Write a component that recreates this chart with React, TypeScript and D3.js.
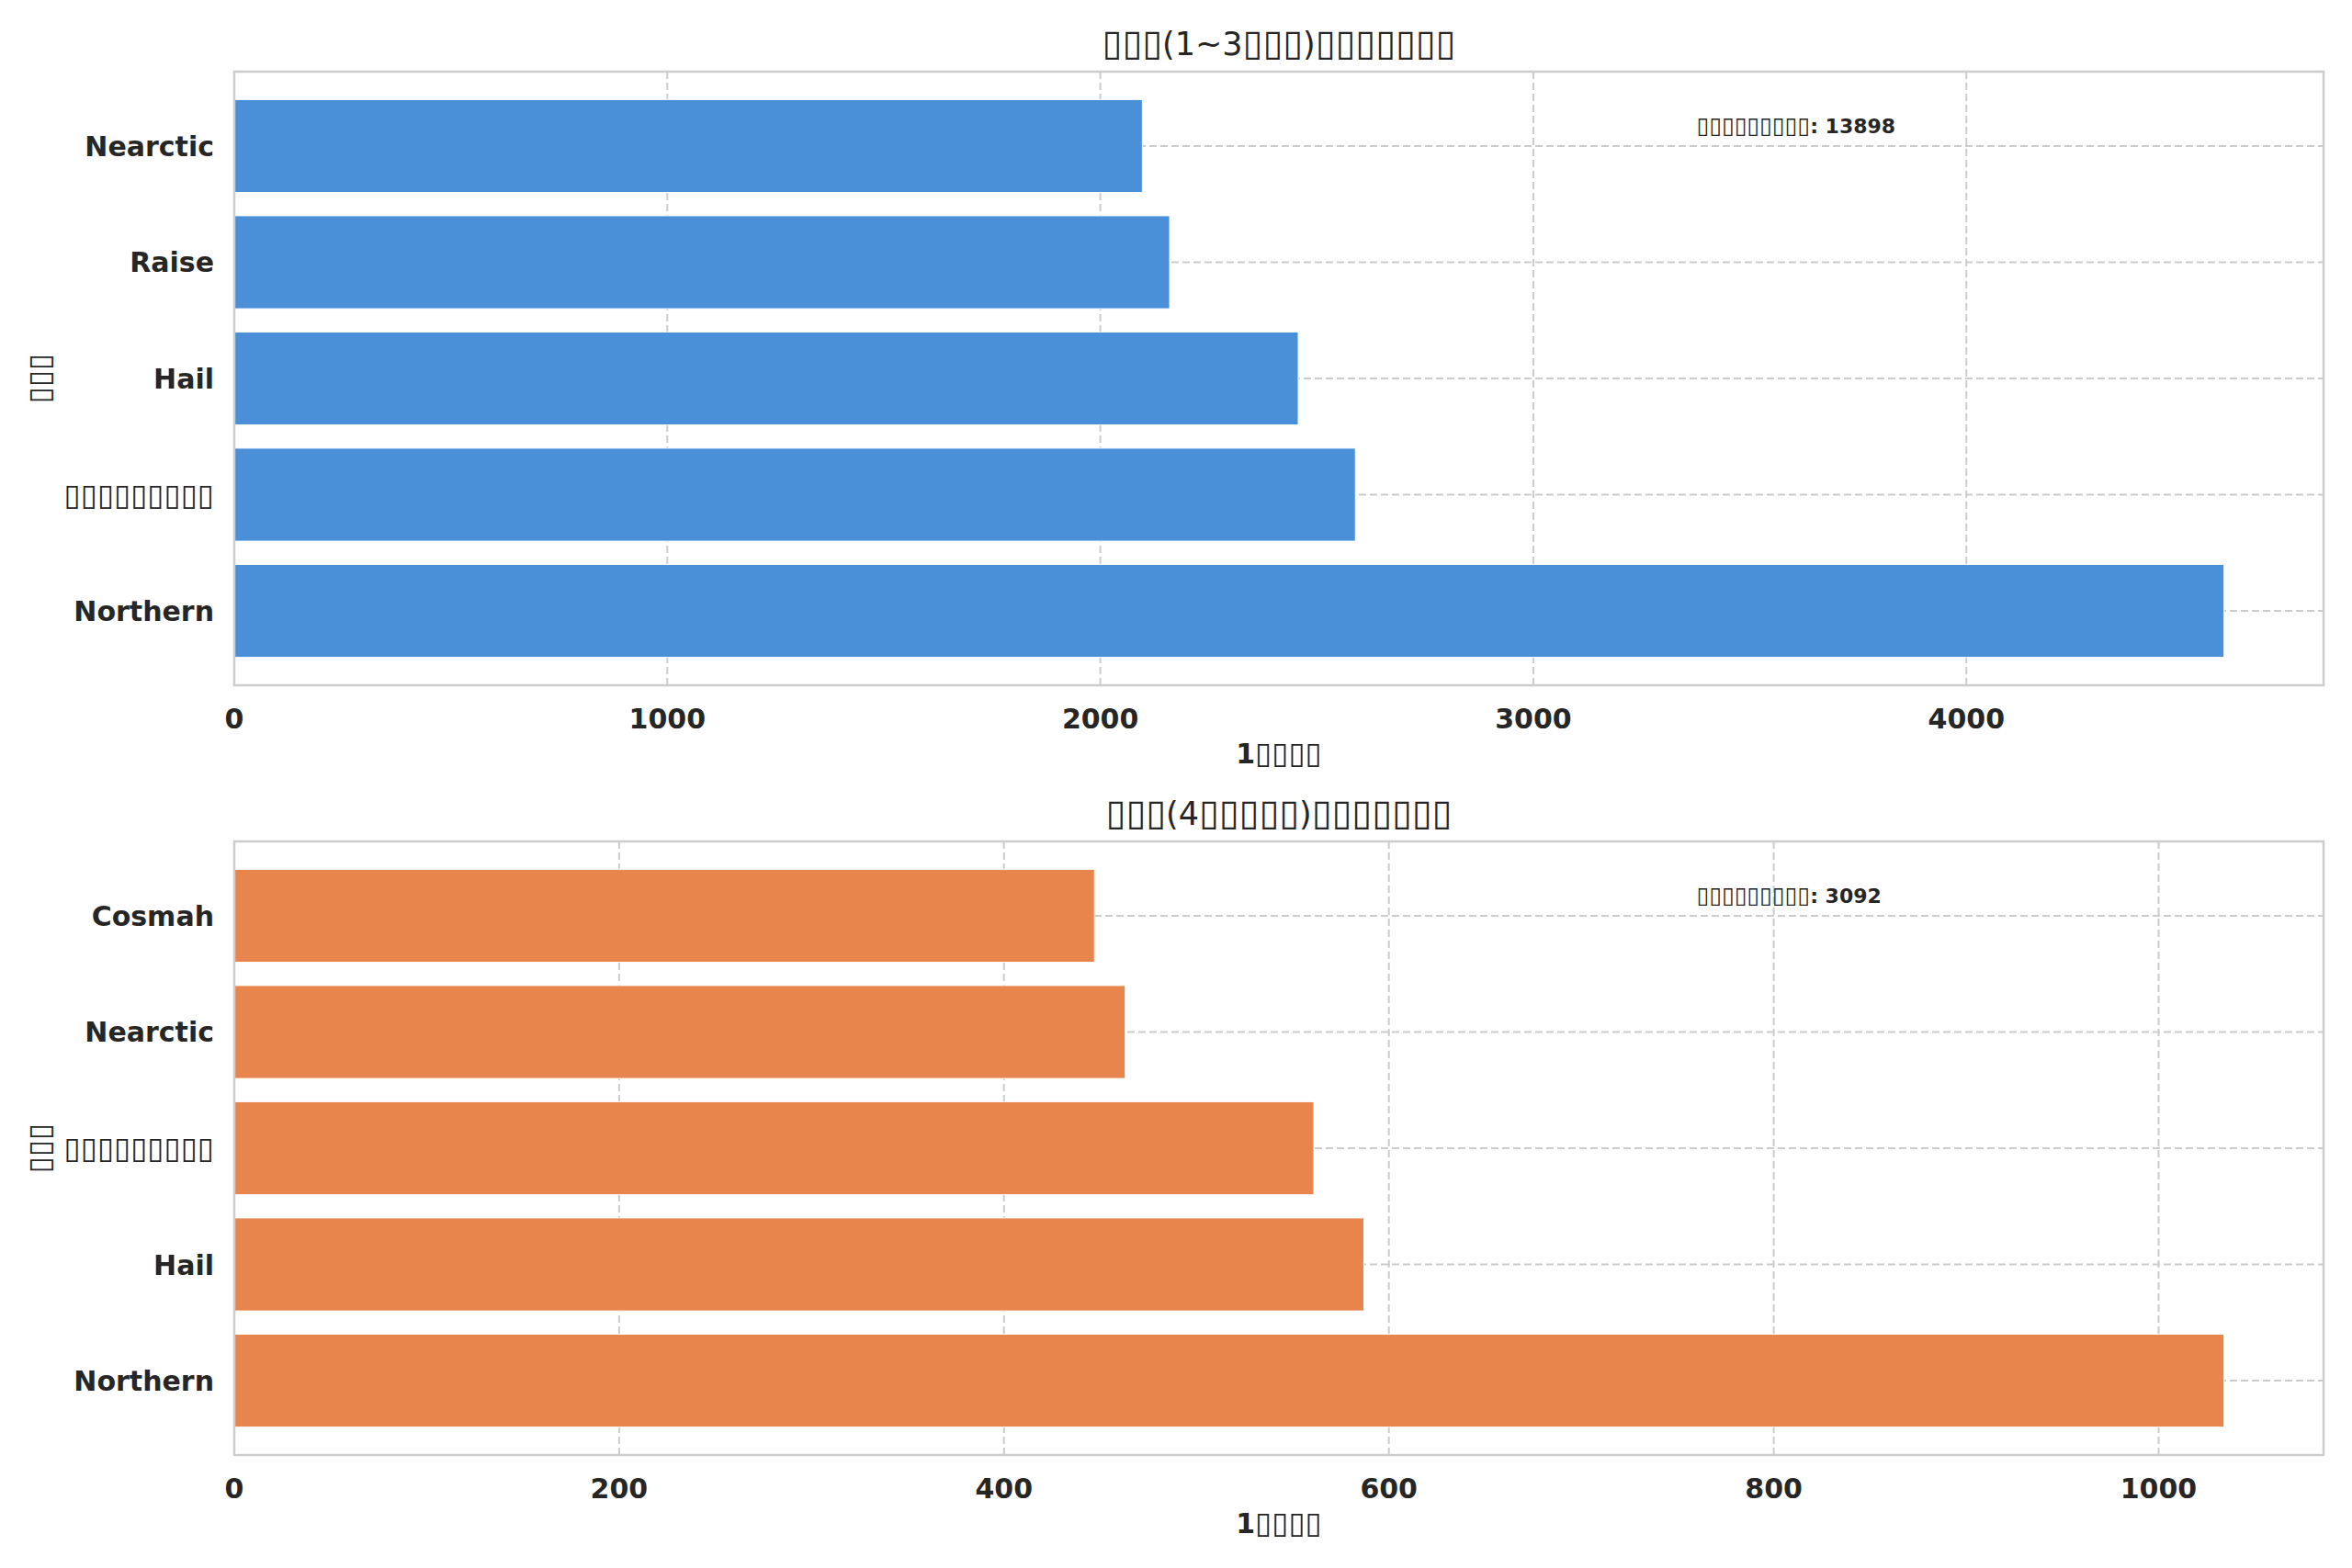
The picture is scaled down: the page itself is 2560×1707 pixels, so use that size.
import { useEffect, useRef } from 'react';
import * as d3 from 'd3';

// Texts in the reference are rendered as missing-glyph boxes; kept as box characters.
const BOX = '\u25AF';
const box = (n: number) => BOX.repeat(n);

const topTitle = `${box(3)}(1~3${box(3)})${box(7)}`;
const topStores = ['Nearctic', 'Raise', 'Hail', box(9), 'Northern'];
const topCounts = [2097, 2160, 2457, 2589, 4595];
const topTotal = 13898;

const bottomTitle = `${box(3)}(4${box(5)})${box(7)}`;
const bottomStores = ['Cosmah', 'Nearctic', box(9), 'Hail', 'Northern'];
const bottomCounts = [447, 463, 561, 587, 1034];
const bottomTotal = 3092;

const xLabel = `1${box(4)}`;
const yLabel = box(3);
const totalLabel = `${box(9)}: `;

const W = 2560;
const H = 1707;
const TEXT = '#262626';
const GRID = '#cccccc';
const TICK = 30;

// write a string into a text node, drawing box runs in regular weight
function fillText(sel: d3.Selection<SVGTextElement, unknown, null, undefined>, str: string, size: number) {
  const parts = str.match(new RegExp(`${BOX}+|[^${BOX}]+`, 'g')) || [];
  parts.forEach(p => {
    const t = sel.append('tspan').text(p);
    if (p[0] === BOX) t.attr('font-weight', 'normal').attr('font-size', size * 1.1);
  });
}

interface PanelOpts {
  title: string;
  stores: string[];
  counts: number[];
  total: number;
  color: string;
  top: number;
}

function drawPanel(svg: d3.Selection<SVGSVGElement, unknown, null, undefined>, o: PanelOpts) {
  const left = 255;
  const right = 2529;
  const h = 668;
  const bottom = o.top + h;

  const x = d3.scaleLinear()
    .domain([0, (d3.max(o.counts) || 0) * 1.05])
    .range([left, right]);
  const y = d3.scaleLinear()
    .domain([-0.64, o.stores.length - 1 + 0.64])
    .range([o.top, bottom]);

  const g = svg.append('g');

  // grid
  g.append('g')
    .selectAll('line')
    .data(x.ticks(5))
    .enter().append('line')
    .attr('x1', d => x(d)).attr('x2', d => x(d))
    .attr('y1', o.top).attr('y2', bottom)
    .attr('stroke', GRID).attr('stroke-width', 2).attr('stroke-dasharray', '8,4');

  g.append('g')
    .selectAll('line')
    .data(o.stores)
    .enter().append('line')
    .attr('x1', left).attr('x2', right)
    .attr('y1', (d, i) => y(i)).attr('y2', (d, i) => y(i))
    .attr('stroke', GRID).attr('stroke-width', 2).attr('stroke-dasharray', '8,4');

  // bars
  g.append('g')
    .selectAll('rect')
    .data(o.counts)
    .enter().append('rect')
    .attr('x', x(0))
    .attr('y', (d, i) => y(i - 0.4))
    .attr('width', d => x(d) - x(0))
    .attr('height', y(0.4) - y(-0.4))
    .attr('fill', o.color)
    .attr('stroke', '#ffffff')
    .attr('stroke-width', 1);

  // frame
  g.append('rect')
    .attr('x', left).attr('y', o.top)
    .attr('width', right - left).attr('height', h)
    .attr('fill', 'none').attr('stroke', GRID).attr('stroke-width', 2.5);

  // x tick labels
  g.append('g')
    .selectAll('text')
    .data(x.ticks(5))
    .enter().append('text')
    .attr('x', d => x(d))
    .attr('y', bottom + 47)
    .attr('text-anchor', 'middle')
    .attr('font-size', TICK)
    .attr('font-weight', 'bold')
    .attr('fill', TEXT)
    .text(d => String(d));

  // y tick labels
  o.stores.forEach((s, i) => {
    const t = g.append('text')
      .attr('x', left - 22)
      .attr('y', y(i) + 11)
      .attr('text-anchor', 'end')
      .attr('font-size', TICK)
      .attr('font-weight', 'bold')
      .attr('fill', TEXT);
    fillText(t, s, TICK);
  });

  // axis labels
  const xl = g.append('text')
    .attr('x', (left + right) / 2)
    .attr('y', bottom + 85)
    .attr('text-anchor', 'middle')
    .attr('font-size', TICK)
    .attr('font-weight', 'bold')
    .attr('fill', TEXT);
  fillText(xl, xLabel, TICK);

  const yl = g.append('text')
    .attr('transform', `translate(54,${(o.top + bottom) / 2}) rotate(-90)`)
    .attr('text-anchor', 'middle')
    .attr('font-size', TICK)
    .attr('fill', TEXT);
  fillText(yl, yLabel, TICK);

  // title
  const tt = g.append('text')
    .attr('x', (left + right) / 2)
    .attr('y', o.top - 18)
    .attr('text-anchor', 'middle')
    .attr('font-size', 35)
    .attr('fill', TEXT);
  fillText(tt, o.title, 35 * 1.03);

  // total annotation
  const at = g.append('text')
    .attr('x', left + 0.7 * (right - left))
    .attr('y', o.top + 67)
    .attr('font-size', 22)
    .attr('font-weight', 'bold')
    .attr('fill', TEXT);
  fillText(at, totalLabel + o.total, 22 * 1.03);
}

export default function App() {
  const svgRef = useRef<SVGSVGElement>(null);

  useEffect(() => {
    document.body.style.margin = '0';
    if (!svgRef.current) return;
    const svg = d3.select(svgRef.current);
    svg.selectAll('*').remove();

    drawPanel(svg, {
      title: topTitle, stores: topStores, counts: topCounts,
      total: topTotal, color: '#4a90d9', top: 78,
    });
    drawPanel(svg, {
      title: bottomTitle, stores: bottomStores, counts: bottomCounts,
      total: bottomTotal, color: '#e8854c', top: 916,
    });
  }, []);

  return (
    <svg
      ref={svgRef}
      width={W}
      height={H}
      style={{ display: 'block', background: '#ffffff', fontFamily: '"DejaVu Sans", sans-serif' }}
    />
  );
}
